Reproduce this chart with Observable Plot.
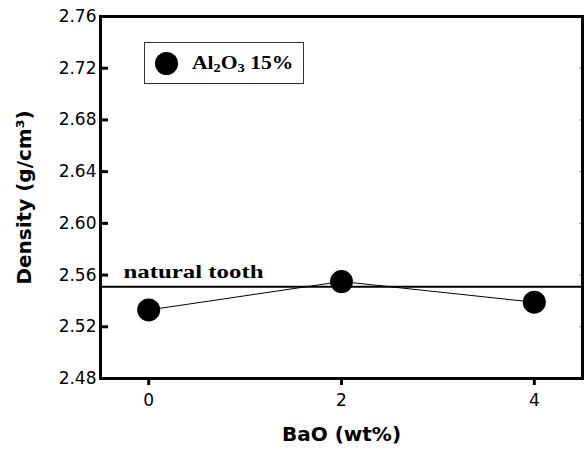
<!DOCTYPE html>
<html>
<head>
<meta charset="utf-8">
<script src="https://cdn.jsdelivr.net/npm/d3@7"></script>
<script src="https://cdn.jsdelivr.net/npm/@observablehq/plot@0.6"></script>
<style>
  html, body { margin: 0; padding: 0; background: #fff; }
  #wrap { position: relative; width: 587px; height: 450px; }
  #legend {
    position: absolute; left: 144px; top: 42px; width: 160px; height: 42px;
    border: 1px solid #333; box-sizing: border-box; background: #fff;
  }
  #legend .sym {
    position: absolute; left: 10px; top: 9px; width: 23px; height: 23px;
    border-radius: 50%; background: #000;
  }
  #legend .lab {
    position: absolute; left: 47px; top: 9px;
    font-family: "Liberation Serif", "Times New Roman", serif; font-weight: bold;
    font-size: 18px; line-height: 22px; white-space: nowrap;
    transform: scaleX(1.2); transform-origin: left center;
  }
  #legend sub { font-size: 12px; vertical-align: -3px; line-height: 0; }
  g[aria-label="x-axis label"], g[aria-label="y-axis label"] {
    font-family: "DejaVu Sans", sans-serif; font-weight: bold; font-size: 20px;
  }
</style>
</head>
<body>
<div id="wrap"></div>
<script>
// ---- data ----
const baO = [0, 2, 4];
const density = [2.533, 2.555, 2.539];
const naturalTooth = [2.551];
const naturalToothLabel = "natural tooth";
const xTicks = [0, 2, 4];
const yTicks = [2.48, 2.52, 2.56, 2.60, 2.64, 2.68, 2.72, 2.76];
const xLabel = "BaO (wt%)";
const yLabel = "Density (g/cm\u00B3)";
const seriesName = "Al2O3 15%";

const data = baO.map((x, i) => ({x, y: density[i]}));

const W = 587, ML = 100, MR = 5;
const tickLen = 8;

const chart = Plot.plot({
  width: W,
  height: 450,
  marginLeft: ML,
  marginRight: MR,
  marginTop: 16,
  marginBottom: 72,
  style: {fontFamily: "DejaVu Sans, sans-serif", fontSize: "17px", color: "#000", background: "#fff"},
  x: {domain: [-0.5, 4.5]},
  y: {domain: [2.48, 2.76]},
  marks: [
    Plot.ruleY(naturalTooth, {strokeWidth: 2, stroke: "#000"}),
    Plot.line(data, {x: "x", y: "y", stroke: "#000", strokeWidth: 1}),
    Plot.dot(data, {x: "x", y: "y", r: 11.5, fill: "#000", stroke: null}),
    Plot.text(naturalTooth, {
      y: d => d, text: () => naturalToothLabel, frameAnchor: "left",
      textAnchor: "start", lineAnchor: "bottom", dx: 23, dy: -9,
      fontFamily: "Liberation Serif, Times New Roman, serif", fontWeight: "bold", fontSize: 19
    }),
    // inward y tick marks at the left edge of the frame
    Plot.tickY(yTicks, {y: d => d, stroke: "#000", strokeWidth: 3,
      insetRight: W - ML - MR - tickLen}),
    // faint right-side ticks
    Plot.tickY(yTicks, {y: d => d, stroke: "#999", strokeWidth: 1,
      insetLeft: W - ML - MR - 3}),
    Plot.axisX({
      ticks: xTicks, tickSize: 7, tickPadding: 8, strokeWidth: 3, fontSize: 17,
      tickFormat: d3.format("d"),
      label: xLabel, labelAnchor: "center", labelArrow: "none", labelOffset: 62
    }),
    Plot.axisY({
      ticks: yTicks, tickSize: 0, tickPadding: 4, fontSize: 17,
      tickFormat: d3.format(".2f"),
      label: yLabel, labelAnchor: "center", labelArrow: "none", labelOffset: 84
    }),
    Plot.frame({stroke: "#000", strokeWidth: 3})
  ]
});

const wrap = document.getElementById("wrap");
wrap.appendChild(chart);

// stretch the serif label horizontally to match the reference's wide type
d3.select(chart).selectAll("text").filter(function() { return this.textContent === naturalToothLabel; })
  .attr("textLength", 140).attr("lengthAdjust", "spacingAndGlyphs");

const legend = document.createElement("div");
legend.id = "legend";
const m = seriesName.match(/^Al(\d)O(\d)\s(.*)$/);
legend.innerHTML = `<div class="sym"></div><div class="lab">Al<sub>${m[1]}</sub>O<sub>${m[2]}</sub> ${m[3]}</div>`;
wrap.appendChild(legend);
</script>
</body>
</html>
